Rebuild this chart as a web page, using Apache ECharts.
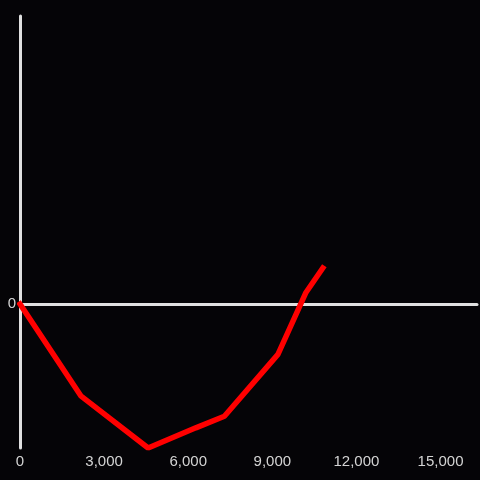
<!DOCTYPE html>
<html>
<head>
<meta charset="utf-8">
<script src="https://cdn.jsdelivr.net/npm/echarts@6/dist/echarts.min.js"></script>
<style>
  html, body { margin: 0; padding: 0; background: #050407; }
  #chart { width: 480px; height: 480px; }
</style>
</head>
<body>
<div id="chart"></div>
<script>
// values
const xValues = [0, 2180, 4570, 6270, 7290, 9200, 10200, 10800];
const yValues = [0, -0.64, -1, -0.86, -0.78, -0.35, 0.08, 0.25];
const xTicks = [0, 3000, 6000, 9000, 12000, 15000];

const chart = echarts.init(document.getElementById("chart"));

chart.setOption({
  backgroundColor: "#050407",
  animation: false,
  grid: { left: 20, right: 0, top: 16, bottom: 32 },
  xAxis: [
    {
      type: "value",
      min: 0,
      max: 16300,
      interval: 3000,
      axisLine: { show: false, onZero: false },
      axisTick: { show: false },
      splitLine: { show: false },
      axisLabel: {
        color: "#d4d4d4",
        fontSize: 15,
        fontFamily: "Liberation Sans",
        margin: 6,
        formatter: (v) => (xTicks.includes(v) ? v.toLocaleString("en-US") : ""),
      },
    },
    {
      // zero line
      type: "value",
      min: 0,
      max: 16300,
      position: "bottom",
      axisLine: { show: true, onZero: true, lineStyle: { color: "#e0e0e0", width: 3 } },
      axisTick: { show: false },
      axisLabel: { show: false },
      splitLine: { show: false },
    },
  ],
  yAxis: {
    type: "value",
    min: -1,
    max: 2,
    interval: 1,
    axisLine: { show: true, lineStyle: { color: "#e0e0e0", width: 3 } },
    axisTick: { show: false },
    splitLine: { show: false },
    axisLabel: {
      color: "#d4d4d4",
      fontSize: 15,
      fontFamily: "Liberation Sans",
      margin: 4,
      formatter: (v) => (v === 0 ? "0" : ""),
    },
  },
  series: [
    {
      type: "line",
      data: xValues.map((x, i) => [x, yValues[i]]),
      showSymbol: false,
      color: "#ff0000",
      lineStyle: { width: 5.5, color: "#ff0000", cap: "square" },
      z: 3,
    },
  ],
});
</script>
</body>
</html>
